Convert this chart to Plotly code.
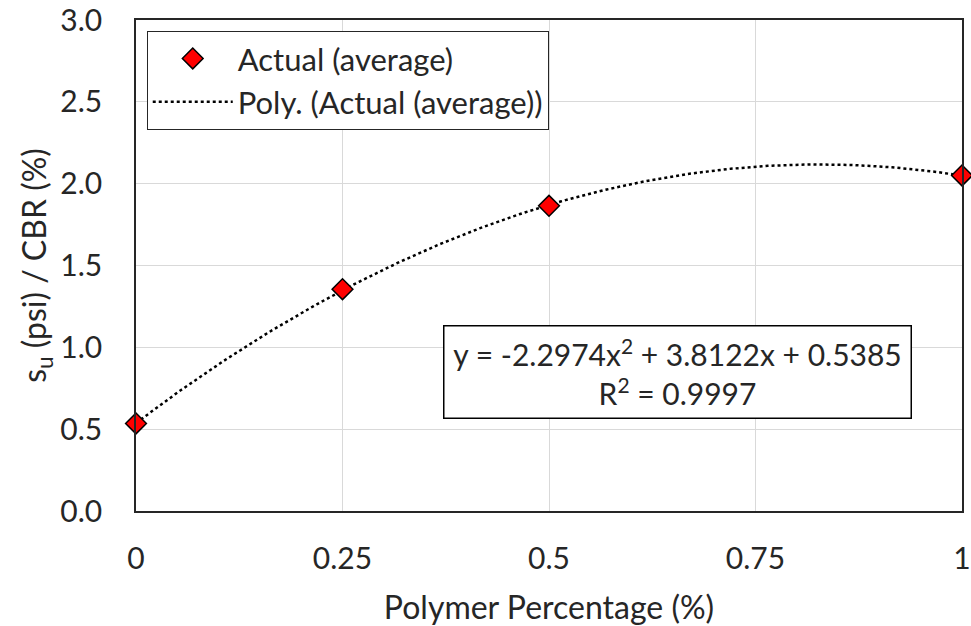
import numpy as np
import plotly.graph_objects as go

polymer_pct = [0, 0.25, 0.5, 1.0]
su_cbr = [0.535, 1.355, 1.865, 2.05]
x_ticks = [0, 0.25, 0.5, 0.75, 1]
x_tick_labels = ["0", "0.25", "0.5", "0.75", "1"]
y_ticks = [0.0, 0.5, 1.0, 1.5, 2.0, 2.5, 3.0]
equation_label = "y = -2.2974x<sup>2</sup> + 3.8122x + 0.5385"
r2_label = "R<sup>2</sup> = 0.9997"

# Second-order polynomial trendline fitted to the data (as in the source chart)
coef = np.polyfit(polymer_pct, su_cbr, 2)
xf = np.linspace(0, 1, 201)
yf = np.polyval(coef, xf)

FONT = "Lato"
FS = 30
TXT = "#262626"
fig = go.Figure()
fig.add_trace(go.Scatter(
    x=xf, y=yf, mode="lines", name="Poly. (Actual (average))",
    line=dict(color="black", width=2.5, dash="dot"),
))
fig.add_trace(go.Scatter(
    x=polymer_pct, y=su_cbr, mode="markers", name="Actual (average)",
    marker=dict(symbol="diamond", size=16, color="#ff0000",
                line=dict(color="black", width=1.5)),
    cliponaxis=False,
))

fig.update_layout(
    width=971, height=626,
    margin=dict(l=136, r=9, t=20, b=115),
    paper_bgcolor="white", plot_bgcolor="white",
    font=dict(family=FONT, size=FS, color=TXT),
    showlegend=True,
    legend=dict(
        x=0.013, y=0.978, xanchor="left", yanchor="top",
        bgcolor="white", bordercolor=TXT, borderwidth=1,
        font=dict(size=31, color=TXT),
        traceorder="reversed", tracegroupgap=0,
        itemwidth=80,
    ),
    xaxis=dict(
        range=[0, 1], tickvals=x_ticks, ticktext=x_tick_labels,
        showgrid=True, gridcolor="#d9d9d9", gridwidth=1,
        showline=True, linecolor=TXT, linewidth=1.5, mirror=True,
        zeroline=False, ticks="", ticklabelstandoff=20, automargin=False,
        ticklabeloverflow="allow",
        tickfont=dict(size=FS),
        title=dict(text="Polymer Percentage (%)", font=dict(size=32), standoff=28),
    ),
    yaxis=dict(
        range=[0, 3], tickvals=y_ticks, tickformat=".1f",
        showgrid=True, gridcolor="#d9d9d9", gridwidth=1,
        showline=True, linecolor=TXT, linewidth=1.5, mirror=True,
        zeroline=False, ticks="", ticklabelstandoff=26, automargin=False,
        ticklabeloverflow="allow",
        tickfont=dict(size=FS),
        title=dict(text="s<sub>u</sub> (psi) / CBR (%)", font=dict(size=32), standoff=4),
    ),
)

fig.add_annotation(
    xref="paper", yref="paper", x=0.655, y=0.283,
    xanchor="center", yanchor="middle",
    text=equation_label + "<br>" + r2_label, showarrow=False, align="center",
    font=dict(size=FS, color=TXT),
    bgcolor="white", bordercolor="black", borderwidth=1.5,
    width=464, height=89,
)

# remove the browser's default 8px page margin so the figure fills the window
fig.write_html("out.html",
               config={"displayModeBar": False},
               post_script="document.body.style.margin='0px';document.body.style.overflow='hidden';")
